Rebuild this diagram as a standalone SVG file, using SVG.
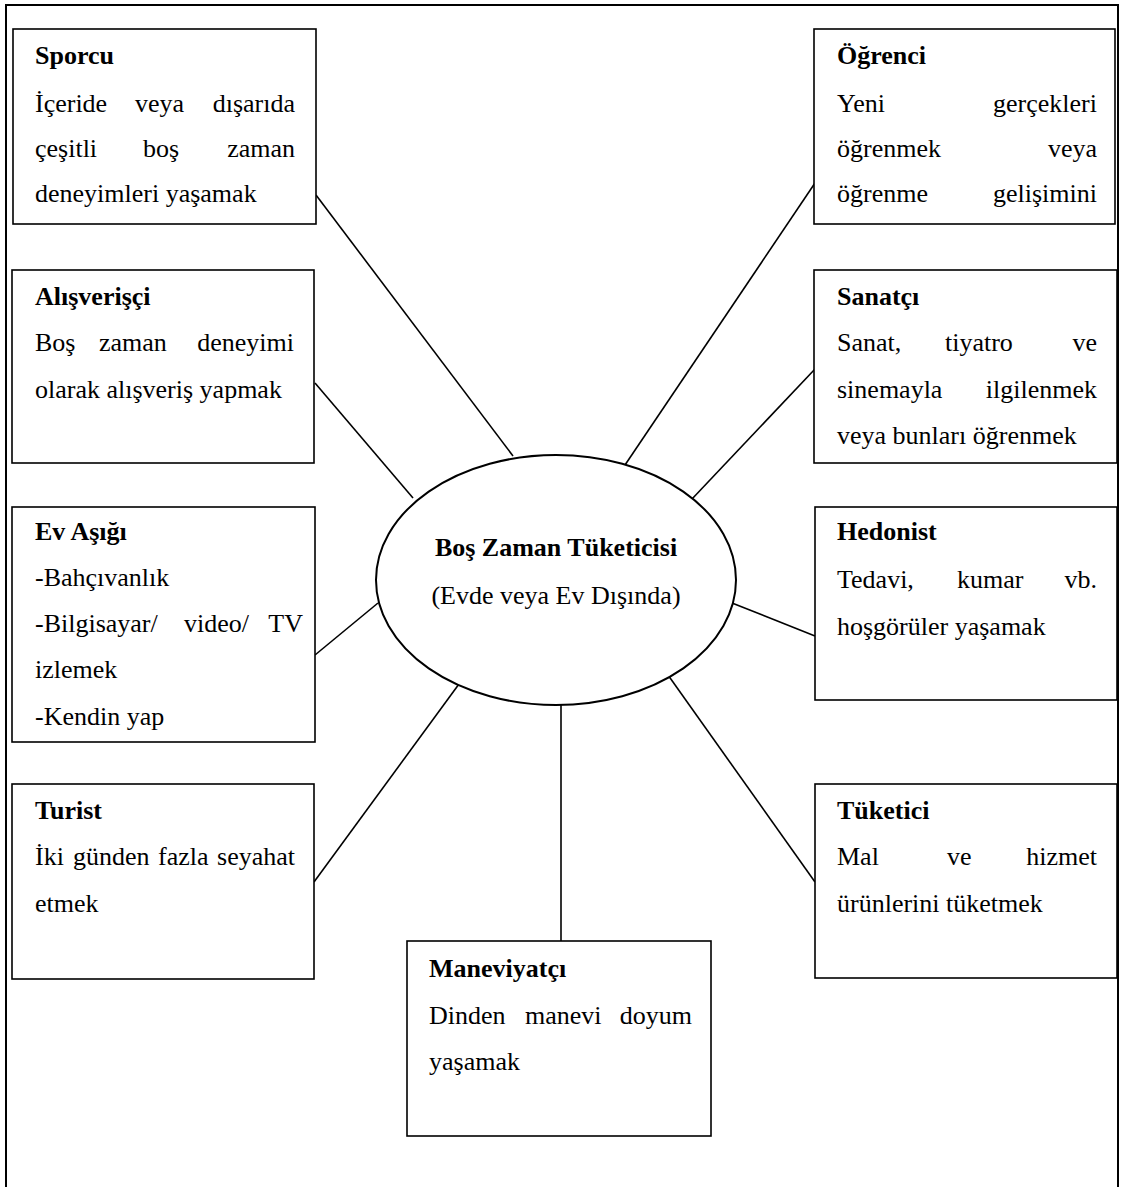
<svg xmlns="http://www.w3.org/2000/svg" width="1123" height="1187" viewBox="0 0 1123 1187">
<style>
text{font-family:"Liberation Serif","Times New Roman",serif;font-size:26px;fill:#000}
.t{font-weight:bold}
.e{text-anchor:end}
.m{text-anchor:middle}
.box{fill:#fff;stroke:#000;stroke-width:1.6}
.frame{fill:none;stroke:#000;stroke-width:2}
.c line{stroke:#000;stroke-width:1.6}
</style>
<rect width="1123" height="1187" fill="#fff"/>
<path class="frame" d="M6,1187 V5 H1118 V1187"/>
<g class="c" id="connectors">
<line x1="316" y1="195" x2="513" y2="456"/>
<line x1="815" y1="183" x2="625" y2="465"/>
<line x1="315" y1="383" x2="413" y2="498"/>
<line x1="815" y1="369" x2="692" y2="499"/>
<line x1="315" y1="655" x2="378" y2="603"/>
<line x1="815" y1="636" x2="732" y2="603"/>
<line x1="314" y1="882" x2="459" y2="684"/>
<line x1="815" y1="882" x2="668" y2="675"/>
<line x1="561" y1="705" x2="561" y2="941"/>
</g>
<g id="sporcu">
<rect class="box" x="13" y="29" width="303" height="195"/>
<text class="t" x="35" y="64">Sporcu</text>
<text x="35" y="112">İçeride</text><text x="135" y="112">veya</text><text class="e" x="295" y="112">dışarıda</text>
<text x="35" y="157">çeşitli</text><text x="143" y="157">boş</text><text class="e" x="295" y="157">zaman</text>
<text x="35" y="202">deneyimleri yaşamak</text>
</g>
<g id="alisverisci">
<rect class="box" x="12" y="270" width="302" height="193"/>
<text class="t" x="35" y="305">Alışverişçi</text>
<text x="35" y="351">Boş</text><text x="99" y="351">zaman</text><text class="e" x="294" y="351">deneyimi</text>
<text x="35" y="398">olarak alışveriş yapmak</text>
</g>
<g id="ev-asigi">
<rect class="box" x="12" y="507" width="303" height="235"/>
<text class="t" x="35" y="540">Ev Aşığı</text>
<text x="35" y="586">-Bahçıvanlık</text>
<text x="35" y="632">-Bilgisayar/</text><text x="184" y="632">video/</text><text class="e" x="303" y="632">TV</text>
<text x="35" y="678">izlemek</text>
<text x="35" y="725">-Kendin yap</text>
</g>
<g id="turist">
<rect class="box" x="12" y="784" width="302" height="195"/>
<text class="t" x="35" y="819">Turist</text>
<text x="35" y="865">İki</text><text x="73" y="865">günden</text><text x="158" y="865">fazla</text><text class="e" x="295" y="865">seyahat</text>
<text x="35" y="912">etmek</text>
</g>
<g id="ogrenci">
<rect class="box" x="814" y="29" width="301" height="195"/>
<text class="t" x="837" y="64">Öğrenci</text>
<text x="837" y="112">Yeni</text><text class="e" x="1097" y="112">gerçekleri</text>
<text x="837" y="157">öğrenmek</text><text class="e" x="1097" y="157">veya</text>
<text x="837" y="202">öğrenme</text><text class="e" x="1097" y="202">gelişimini</text>
</g>
<g id="sanatci">
<rect class="box" x="814" y="270" width="303" height="193"/>
<text class="t" x="837" y="305">Sanatçı</text>
<text x="837" y="351">Sanat,</text><text x="945" y="351">tiyatro</text><text class="e" x="1097" y="351">ve</text>
<text x="837" y="398">sinemayla</text><text class="e" x="1097" y="398">ilgilenmek</text>
<text x="837" y="444">veya bunları öğrenmek</text>
</g>
<g id="hedonist">
<rect class="box" x="815" y="507" width="302" height="193"/>
<text class="t" x="837" y="540">Hedonist</text>
<text x="837" y="588">Tedavi,</text><text x="957" y="588">kumar</text><text class="e" x="1097" y="588">vb.</text>
<text x="837" y="635">hoşgörüler yaşamak</text>
</g>
<g id="tuketici">
<rect class="box" x="815" y="784" width="302" height="194"/>
<text class="t" x="837" y="819">Tüketici</text>
<text x="837" y="865">Mal</text><text x="947" y="865">ve</text><text class="e" x="1097" y="865">hizmet</text>
<text x="837" y="912">ürünlerini tüketmek</text>
</g>
<g id="maneviyatci">
<rect class="box" x="407" y="941" width="304" height="195"/>
<text class="t" x="429" y="977">Maneviyatçı</text>
<text x="429" y="1024">Dinden</text><text x="525" y="1024">manevi</text><text class="e" x="692" y="1024">doyum</text>
<text x="429" y="1070">yaşamak</text>
</g>
<g id="bos-zaman-tuketicisi">
<ellipse cx="556" cy="580" rx="180" ry="125" fill="#fff" stroke="#000" stroke-width="2"/>
<text class="t m" x="556" y="556">Boş Zaman Tüketicisi</text>
<text class="m" x="556" y="604">(Evde veya Ev Dışında)</text>
</g>
</svg>
